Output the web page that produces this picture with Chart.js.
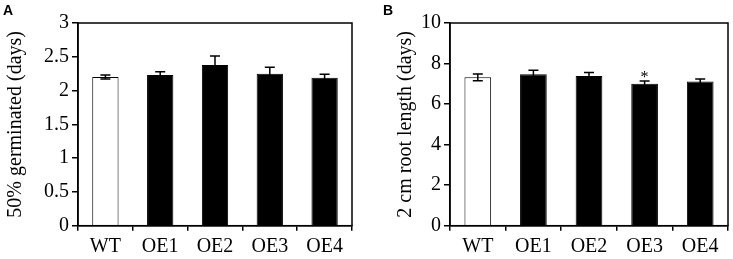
<!DOCTYPE html>
<html>
<head>
<meta charset="utf-8">
<script src="https://cdn.jsdelivr.net/npm/chart.js@4.4.0/dist/chart.umd.min.js"></script>
<style>
body{margin:0;background:#fff;}
#wrap{position:relative;width:733px;height:259px;}
.box{position:absolute;top:0;height:259px;}
.lbl{position:absolute;top:2px;font:bold 14px "Liberation Sans",Arial,sans-serif;color:#000;}
</style>
</head>
<body>
<div id="wrap">
	<div class="box" style="left:0;width:366px;"><canvas id="ikcA"></canvas></div>
	<div class="box" style="left:366px;width:367px;"><canvas id="ikcB"></canvas></div>
	<div class="lbl" style="left:3px;">A</div>
	<div class="lbl" style="left:383px;">B</div>
</div>
<script>
var categories = ["WT","OE1","OE2","OE3","OE4"];

// panel A: 50% germinated (days)
var germValues = [2.20, 2.23, 2.38, 2.25, 2.19];
var germErrors = [0.03, 0.05, 0.13, 0.095, 0.05];

// panel B: 2 cm root length (days)
var rootValues = [7.32, 7.47, 7.39, 7.00, 7.12];
var rootErrors = [0.17, 0.2, 0.17, 0.14, 0.12];
var rootSig = ["", "", "", "*", ""];

var barFills = ["#ffffff","#000000","#000000","#000000","#000000"];

var errorBars = {
	id: 'errorBars',
	afterDatasetsDraw: function(chart, args, opts){
		var c = chart.ctx;
		var meta = chart.getDatasetMeta(0);
		var ys = chart.scales.y;
		c.save();
		c.strokeStyle = '#000';
		c.lineWidth = 1.5;
		for(var i=0;i<meta.data.length;i++){
			var x = meta.data[i].x;
			var v = opts.values[i], e = opts.errors[i];
			var top = ys.getPixelForValue(v+e);
			var bot = ys.getPixelForValue(v-e);
			c.beginPath();
			c.moveTo(x, top); c.lineTo(x, bot);
			c.moveTo(x-5, top); c.lineTo(x+5, top);
			c.moveTo(x-5, bot); c.lineTo(x+5, bot);
			c.stroke();
			if(opts.marks && opts.marks[i]){
				c.fillStyle = '#000';
				c.font = '16px "Liberation Serif"';
				c.textAlign = 'center';
				c.textBaseline = 'alphabetic';
				c.fillText(opts.marks[i], x, top+1);
			}
		}
		// frame round plot area
		var a = chart.chartArea;
		c.lineWidth = 1.5;
		c.strokeRect(a.left, a.top, a.right-a.left, a.bottom-a.top);
		c.restore();
	}
};

function bar_chart(id, values, errors, marks, ymax, ystep, ytitle, yw, rpad, tpad){
	var ctx = document.getElementById(id).getContext('2d');
	return new Chart(ctx, {
		type: 'bar',
		data: {
			labels: categories,
			datasets: [{
				data: values,
				backgroundColor: barFills,
				borderColor: '#000',
				borderWidth: 1,
				barPercentage: 0.48,
				categoryPercentage: 1
			}]
		},
		options: {
			responsive: true,
			maintainAspectRatio: false,
			animation: false,
			layout: { padding: { top: 23, right: rpad, left: 0, bottom: 0 } },
			plugins: {
				legend: { display: false },
				tooltip: { enabled: false },
				errorBars: { values: values, errors: errors, marks: marks }
			},
			scales: {
				x: {
					grid: { display: true, offset: true, drawOnChartArea: false, color: '#000', lineWidth: 1.5, tickLength: 5 },
					border: { color: '#000', width: 1.5 },
					ticks: { color: '#000', padding: 4, font: { family: 'Liberation Serif', size: 20 } },
					afterFit: function(s){ s.height = 33.3; }
				},
				y: {
					min: 0, max: ymax,
					grid: { display: true, drawOnChartArea: false, color: '#000', lineWidth: 1.5, tickLength: 6 },
					border: { color: '#000', width: 1.5 },
					ticks: {
						stepSize: ystep, color: '#000', padding: 3,
						font: { family: 'Liberation Serif', size: 20 },
						callback: function(v){ return String(Math.round(v*10)/10); }
					},
					title: { display: true, text: ytitle, color: '#000', padding: { top: tpad, bottom: 0 }, font: { family: 'Liberation Serif', size: 20 } },
					afterFit: function(s){ s.width = yw; }
				}
			}
		},
		plugins: [errorBars]
	});
}

var chartA = bar_chart('ikcA', germValues, germErrors, null, 3, 0.5, '50% germinated (days)', 78, 14, 4);
var chartB = bar_chart('ikcB', rootValues, rootErrors, rootSig, 10, 2, '2 cm root length (days)', 84, 5, 28);
</script>
</body>
</html>
